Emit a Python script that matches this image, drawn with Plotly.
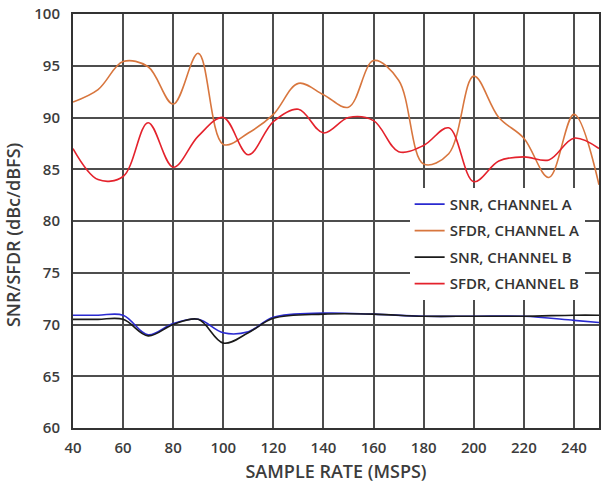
import plotly.graph_objects as go

# Sample rate (MSPS) and measured performance (dBc / dBFS)
rate_sfdr = [40, 50, 60, 70, 80, 90, 100, 110, 120, 130, 140, 150, 160, 170, 180, 190, 200, 210, 220, 230, 240, 250]
sfdr_a = [91.5, 92.7, 95.4, 94.9, 91.3, 96.2, 87.4, 88.5, 90.3, 93.3, 92.2, 91.0, 95.5, 93.6, 85.5, 86.5, 94.0, 90.0, 88.0, 84.2, 90.3, 83.5]
sfdr_b = [87.0, 84.0, 84.3, 89.5, 85.2, 88.2, 90.0, 86.4, 89.6, 90.8, 88.5, 90.0, 89.7, 86.7, 87.3, 89.0, 83.8, 85.8, 86.2, 85.9, 88.0, 87.0]

rate_snr = [40, 50, 60, 70, 80, 90, 100, 110, 120, 140, 160, 180, 200, 220, 240, 250]
snr_a = [70.9, 70.9, 70.9, 69.0, 70.1, 70.5, 69.2, 69.3, 70.7, 71.1, 71.0, 70.8, 70.8, 70.8, 70.4, 70.2]
snr_b = [70.5, 70.5, 70.5, 68.9, 70.0, 70.5, 68.2, 69.2, 70.6, 71.0, 71.0, 70.8, 70.8, 70.8, 70.9, 70.9]

x_ticks = list(range(40, 241, 20))
y_ticks = list(range(60, 101, 5))

series = [
    ("SNR, CHANNEL A", rate_snr, snr_a, "#2a2ad0"),
    ("SFDR, CHANNEL A", rate_sfdr, sfdr_a, "#d8763e"),
    ("SNR, CHANNEL B", rate_snr, snr_b, "#1a1a1a"),
    ("SFDR, CHANNEL B", rate_sfdr, sfdr_b, "#e4222c"),
]

fig = go.Figure()
for i, (name, xs, ys, color) in enumerate(series):
    fig.add_trace(go.Scatter(
        x=xs, y=ys, name=name, mode="lines", legendgroup=f"g{i}",
        line=dict(color=color, width=1.6, shape="spline", smoothing=1.0),
    ))

text_col = "#3c3c3c"
grid_col = "#4d4d4d"
title_font = dict(family="Open Sans", size=18, color=text_col, weight=600)

# y-axis title placed as an annotation so it can sit slightly below centre
fig.add_annotation(
    text="SNR/SFDR (dBc/dBFS)", xref="paper", yref="paper",
    x=0, y=0.466, xanchor="center", yanchor="middle", xshift=-60,
    textangle=-90, showarrow=False, font=title_font,
)

fig.update_layout(
    width=601, height=488,
    margin=dict(l=73, r=0, t=14, b=60),
    paper_bgcolor="white", plot_bgcolor="white",
    font=dict(family="Open Sans", size=15, color=text_col, weight=600),
    showlegend=True,
    legend=dict(
        x=0.64, y=0.58, xanchor="left", yanchor="top",
        bgcolor="white", borderwidth=0,
        font=dict(family="Open Sans", size=15, color="#333333", weight=600),
        tracegroupgap=4, traceorder="grouped",
    ),
    xaxis=dict(
        range=[40, 250], tickvals=x_ticks, showgrid=True, gridcolor=grid_col, gridwidth=1.5,
        showline=True, linecolor="#333333", linewidth=2, mirror=True,
        ticks="", ticklabelstandoff=5, zeroline=False,
        title=dict(text="SAMPLE RATE (MSPS)", font=title_font, standoff=9),
    ),
    yaxis=dict(
        range=[60, 100], tickvals=y_ticks, showgrid=True, gridcolor=grid_col, gridwidth=1.5,
        showline=True, linecolor="#333333", linewidth=2, mirror=True,
        ticks="", ticklabelstandoff=8, zeroline=False,
    ),
)

fig.write_html("out.html")
